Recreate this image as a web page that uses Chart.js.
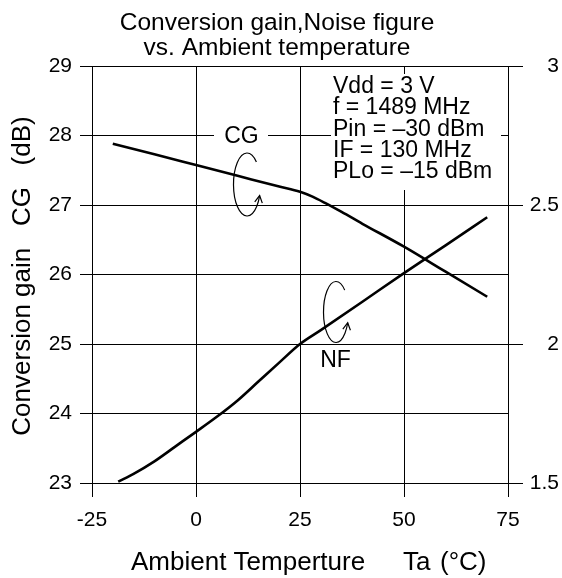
<!DOCTYPE html>
<html>
<head>
<meta charset="utf-8">
<script src="https://cdn.jsdelivr.net/npm/chart.js@4"></script>
<style>
  html, body { margin: 0; padding: 0; background: #fff; }
  #wrap { width: 562px; height: 578px; }
</style>
</head>
<body>
<div id="wrap"><canvas id="chart" width="562" height="578"></canvas></div>
<script>
// conversion gain (left axis, dB) vs ambient temperature
const cgTemps = [-20, -10, 0, 10, 20, 25, 28, 31, 35, 40, 50, 60, 70];
const cgValues = [27.88, 27.73, 27.575, 27.42, 27.265, 27.19, 27.12, 27.03, 26.9, 26.73, 26.4, 26.04, 25.68];

// noise figure (right axis)
const nfTemps = [-18.7, -15, -10, -5, 0, 5, 10, 15, 20, 25, 30, 40, 50, 60, 70];
const nfValues = [1.505, 1.533, 1.578, 1.631, 1.684, 1.738, 1.797, 1.865, 1.933, 2.0, 2.05, 2.152, 2.255, 2.355, 2.456];

const xTicks = [-25, 0, 25, 50, 75];
const cgTicks = [23, 24, 25, 26, 27, 28, 29];
const nfTicks = [1.5, 2, 2.5, 3];

const titleLines = ['Conversion gain,Noise figure', 'vs. Ambient temperature'];
const conditions = ['Vdd = 3 V', 'f = 1489 MHz', 'Pin = \u201330 dBm', 'IF = 130 MHz', 'PLo = \u201315 dBm'];

const FONT = "'Liberation Sans', Arial, sans-serif";

const toPoints = (xs, ys) => xs.map((x, i) => ({ x: x, y: ys[i] }));

// curly arrow used to point a curve at its axis
function drawCurl(ctx, cx, cy, rx, ry) {
  const a0 = -0.8, a1 = 0.36;
  ctx.save();
  ctx.strokeStyle = '#000';
  ctx.lineWidth = 1.2;
  ctx.beginPath();
  ctx.ellipse(cx, cy, rx, ry, 0, a0, a1, true);
  ctx.stroke();
  const px = cx + rx * Math.cos(a1), py = cy + ry * Math.sin(a1);
  const dx = rx * Math.sin(a1), dy = -ry * Math.cos(a1);
  const ang = Math.atan2(dy, dx);
  ctx.beginPath();
  ctx.moveTo(px - 8 * Math.cos(ang - 0.5), py - 8 * Math.sin(ang - 0.5));
  ctx.lineTo(px, py);
  ctx.lineTo(px - 8 * Math.cos(ang + 0.5), py - 8 * Math.sin(ang + 0.5));
  ctx.stroke();
  ctx.restore();
}

const decorations = {
  id: 'decorations',
  afterDatasetsDraw(chart) {
    const ctx = chart.ctx;
    ctx.save();
    ctx.fillStyle = '#000';
    ctx.textBaseline = 'alphabetic';

    // title
    ctx.font = '24.5px ' + FONT;
    ctx.textAlign = 'center';
    ctx.fillText(titleLines[0], 277, 30);
    ctx.fillText(titleLines[1], 277, 55);

    // x axis title
    ctx.font = '26px ' + FONT;
    ctx.textAlign = 'left';
    ctx.fillText('Ambient Temperture', 131, 570);
    ctx.fillText('Ta', 403, 570);
    ctx.fillText('(\u00b0C)', 440, 570);

    // y axis title
    ctx.save();
    ctx.translate(30, 276);
    ctx.rotate(-Math.PI / 2);
    ctx.textAlign = 'center';
    ctx.font = '26px ' + FONT;
    ctx.fillText('Conversion gain   CG   (dB)', 0, 0);
    ctx.restore();

    // conditions box
    ctx.fillStyle = '#fff';
    ctx.fillRect(331, 74, 170, 116);
    ctx.fillStyle = '#000';
    ctx.font = '23px ' + FONT;
    ctx.textAlign = 'left';
    conditions.forEach((t, i) => ctx.fillText(t, 333, 93 + i * 21.3));

    // CG label
    ctx.fillStyle = '#fff';
    ctx.fillRect(214, 126, 54, 20);
    ctx.fillStyle = '#000';
    ctx.textAlign = 'center';
    ctx.fillText('CG', 241.5, 143);
    drawCurl(ctx, 247, 184.5, 13.5, 31.5);

    // NF label
    ctx.fillText('NF', 335.5, 367);
    drawCurl(ctx, 336, 312, 12.5, 30.5);

    ctx.restore();
  }
};

new Chart(document.getElementById('chart'), {
  type: 'line',
  data: {
    datasets: [
      {
        label: 'CG',
        data: toPoints(cgTemps, cgValues),
        yAxisID: 'y',
        borderColor: '#000',
        borderWidth: 2.6,
        pointRadius: 0,
        cubicInterpolationMode: 'monotone',
        fill: false,
      },
      {
        label: 'NF',
        data: toPoints(nfTemps, nfValues),
        yAxisID: 'y2',
        borderColor: '#000',
        borderWidth: 2.6,
        pointRadius: 0,
        cubicInterpolationMode: 'monotone',
        fill: false,
      },
    ],
  },
  options: {
    responsive: false,
    animation: false,
    devicePixelRatio: 1,
    layout: { padding: { top: 66, right: 3, left: 0, bottom: 0 } },
    plugins: {
      legend: { display: false },
      tooltip: { enabled: false },
      title: { display: false },
    },
    scales: {
      x: {
        type: 'linear',
        position: 'bottom',
        min: -25,
        max: 75,
        afterBuildTicks: (s) => { s.ticks = xTicks.map(v => ({ value: v })); },
        afterFit: (s) => { s.height = 95; },
        ticks: { font: { family: FONT, size: 21 }, color: '#000', padding: 11, maxRotation: 0 },
        grid: { color: '#000', lineWidth: 1, tickLength: 14 },
        border: { color: '#000', width: 1 },
      },
      y: {
        type: 'linear',
        position: 'left',
        min: 23,
        max: 29,
        afterBuildTicks: (s) => { s.ticks = cgTicks.map(v => ({ value: v })); },
        afterFit: (s) => { s.width = 92; },
        ticks: { font: { family: FONT, size: 21 }, color: '#000', padding: 8 },
        grid: { color: '#000', lineWidth: 1, tickLength: 12 },
        border: { color: '#000', width: 1 },
      },
      y2: {
        type: 'linear',
        position: 'right',
        min: 1.5,
        max: 3,
        afterBuildTicks: (s) => { s.ticks = nfTicks.map(v => ({ value: v })); },
        afterFit: (s) => { s.width = 51; },
        ticks: {
          font: { family: FONT, size: 21 },
          color: '#000',
          padding: 4,
          crossAlign: 'far',
          callback: (v) => String(v),
        },
        grid: { color: '#000', lineWidth: 1, tickLength: 15, drawOnChartArea: false },
        border: { color: '#000', width: 1 },
      },
    },
  },
  plugins: [decorations],
});
</script>
</body>
</html>
